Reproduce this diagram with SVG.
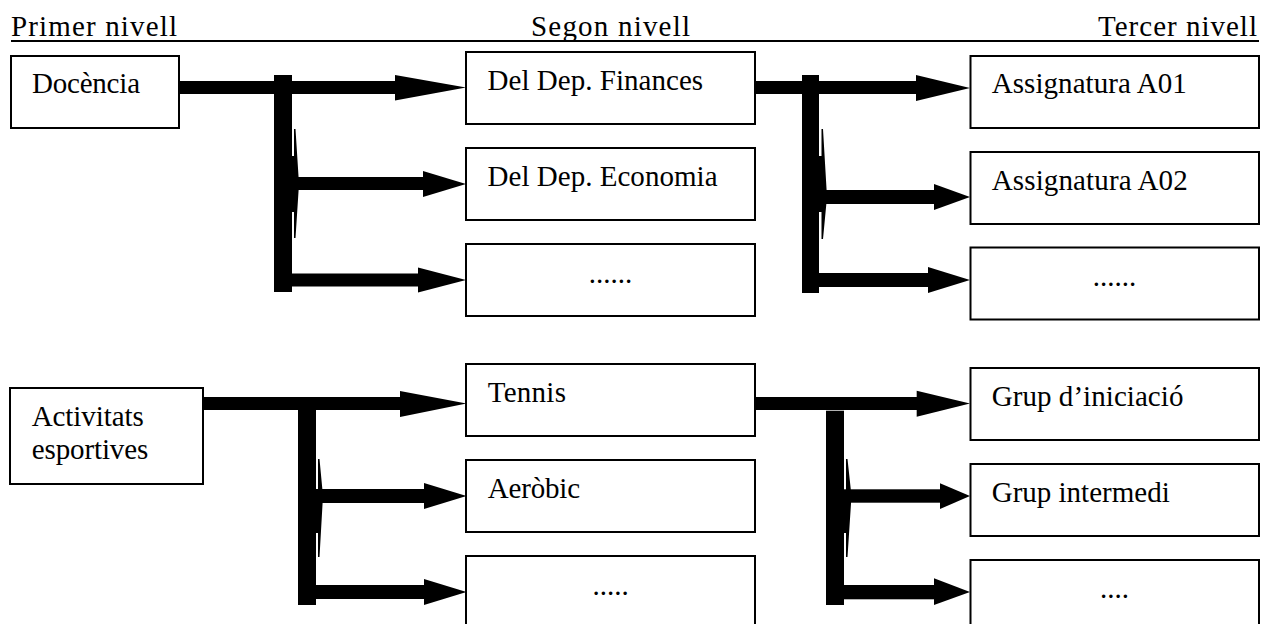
<svg xmlns="http://www.w3.org/2000/svg" width="1265" height="624" viewBox="0 0 1265 624">
<style>
  .box { fill: #ffffff; stroke: #000000; stroke-width: 2; }
  .c { fill: #000000; stroke: none; }
  text { font-family: "Times New Roman", Times, "Liberation Serif", "DejaVu Serif", serif; fill: #000000; }
  .h { font-size: 29px; }
  .t { font-size: 29px; }
</style>
<rect x="0" y="0" width="1265" height="624" fill="#ffffff"/>
<g id="headers">
  <text class="h" x="11" y="36" textLength="166">Primer nivell</text>
  <text class="h" x="531" y="36" textLength="159">Segon nivell</text>
  <text class="h" x="1098" y="36" textLength="159">Tercer nivell</text>
  <line x1="11" y1="41" x2="1259" y2="41" stroke="#000" stroke-width="2"/>
</g>
<g id="connectors" class="c">
  <rect x="179" y="81" width="217" height="13"/>
  <polygon points="395,75 466,87.5 395,100.5"/>
  <rect x="274" y="75" width="18" height="217"/>
  <polygon points="294,129 295.5,129 299,184 295.5,238 294,238 294,212 291,212 291,156 294,156"/>
  <rect x="291" y="177" width="133" height="13"/>
  <polygon points="423,171 466,184 423,197"/>
  <rect x="291" y="273.5" width="128" height="13"/>
  <polygon points="418,267.5 466,280 418,292.5"/>
  <rect x="755" y="81" width="162" height="13"/>
  <polygon points="916,75 970,88 916,101"/>
  <rect x="802" y="75" width="17" height="218"/>
  <polygon points="821.5,129 823,129 827,197 823,239 821.5,239 821.5,212 818,212 818,156 821.5,156"/>
  <rect x="818" y="190" width="117" height="14"/>
  <polygon points="934,184 970,197 934,210"/>
  <rect x="818" y="273" width="111" height="14"/>
  <polygon points="928,267 970,280 928,293"/>
  <rect x="203" y="397" width="198" height="13"/>
  <polygon points="400,391 466.5,403.5 400,417"/>
  <rect x="298" y="410" width="18" height="195"/>
  <polygon points="318,459 319.5,459 323,496 319.5,557 318,557 318,533 315,533 315,490 318,490"/>
  <rect x="315" y="489" width="110" height="14"/>
  <polygon points="424,483 466.5,496 424,509"/>
  <rect x="315" y="585" width="110" height="14"/>
  <polygon points="424,579 466.5,592 424,605"/>
  <rect x="755" y="397" width="163" height="13"/>
  <polygon points="916.7,390.7 970,403.5 916.7,416.7"/>
  <rect x="826" y="410.7" width="18" height="194.3"/>
  <polygon points="846,459 847.5,459 851.5,496 847.5,557 846,557 846,533 843,533 843,490 846,490"/>
  <rect x="843" y="489.3" width="98" height="13.4"/>
  <polygon points="940,483.3 970,496 940,509"/>
  <rect x="843" y="585" width="92" height="14.3"/>
  <polygon points="934,578.3 970,592 934,605"/>
</g>
<g id="n-docencia">
  <rect class="box" x="11" y="56" width="168" height="72"/>
  <text class="t" x="32" y="93" textLength="108">Docència</text>
</g>
<g id="n-finances">
  <rect class="box" x="466" y="52" width="289" height="72"/>
  <text class="t" x="487.5" y="90" textLength="215.6">Del Dep. Finances</text>
</g>
<g id="n-economia">
  <rect class="box" x="466" y="148" width="289" height="72"/>
  <text class="t" x="487.5" y="186" textLength="230">Del Dep. Economia</text>
</g>
<g id="n-more2a">
  <rect class="box" x="466" y="244" width="289" height="72"/>
  <text class="t" x="610.5" y="283" text-anchor="middle">......</text>
</g>
<g id="n-a01">
  <rect class="box" x="970.5" y="56" width="288.5" height="72"/>
  <text class="t" x="991.7" y="93" textLength="195">Assignatura A01</text>
</g>
<g id="n-a02">
  <rect class="box" x="970.5" y="152" width="288.5" height="72"/>
  <text class="t" x="991.7" y="190" textLength="196">Assignatura A02</text>
</g>
<g id="n-more3a">
  <rect class="box" x="970.5" y="247.5" width="288.5" height="72"/>
  <text class="t" x="1114.5" y="286" text-anchor="middle">......</text>
</g>
<g id="n-activitats">
  <rect class="box" x="10" y="388" width="193" height="96"/>
  <text class="t" x="31.7" y="426" textLength="112">Activitats</text>
  <text class="t" x="31.7" y="459" textLength="116.6">esportives</text>
</g>
<g id="n-tennis">
  <rect class="box" x="466" y="364" width="289" height="72"/>
  <text class="t" x="487.7" y="401.7" textLength="78.3">Tennis</text>
</g>
<g id="n-aerobic">
  <rect class="box" x="466" y="460" width="289" height="72"/>
  <text class="t" x="487.7" y="498" textLength="92.3">Aeròbic</text>
</g>
<g id="n-more2b">
  <rect class="box" x="466" y="556" width="289" height="72"/>
  <text class="t" x="610.5" y="595" text-anchor="middle">.....</text>
</g>
<g id="n-iniciacio">
  <rect class="box" x="970.5" y="368" width="288.5" height="72"/>
  <text class="t" x="991.7" y="406" textLength="191.7">Grup d’iniciació</text>
</g>
<g id="n-intermedi">
  <rect class="box" x="970.5" y="464" width="288.5" height="72"/>
  <text class="t" x="991.7" y="501.7" textLength="178">Grup intermedi</text>
</g>
<g id="n-more3b">
  <rect class="box" x="970.5" y="560" width="288.5" height="72"/>
  <text class="t" x="1114.5" y="598" text-anchor="middle">....</text>
</g>
</svg>
